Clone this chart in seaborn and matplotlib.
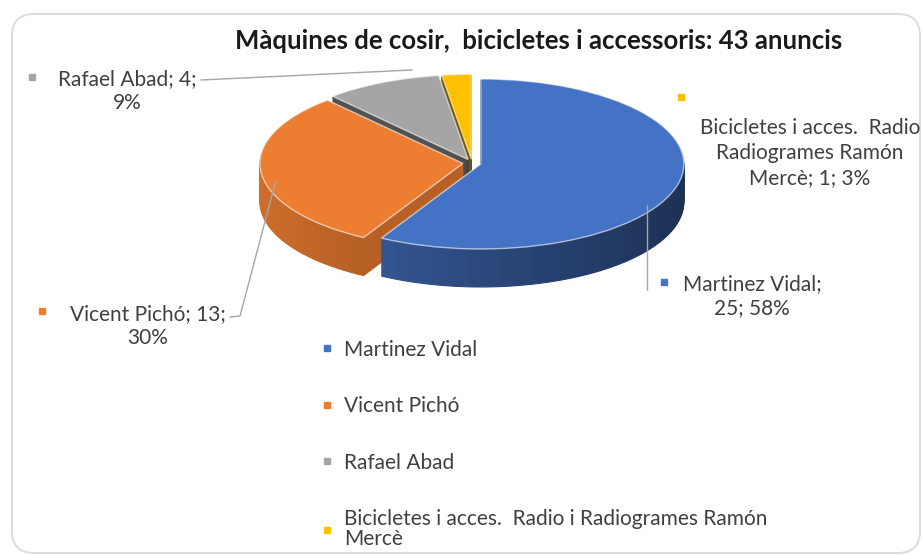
import matplotlib
matplotlib.use("Agg")
import numpy as np
import matplotlib.pyplot as plt
from matplotlib.colors import to_rgb
from matplotlib.patches import FancyBboxPatch
from matplotlib.lines import Line2D
import seaborn as sns

# data
sellers = ["Martinez Vidal", "Vicent Pichó", "Rafael Abad",
           "Bicicletes i acces.  Radio i Radiogrames Ramón Mercè"]
ads = [25, 13, 4, 1]
pcts = [58, 30, 9, 3]
title = "Màquines de cosir,  bicicletes i accessoris: 43 anuncis"

top_colors = ["#4472C4", "#ED7D31", "#A5A5A5", "#FFC000"]
side_dark = [0.64, 0.66, 0.36, 0.42]   # darkening of the slice walls

sns.set_theme(style="white")
plt.rcParams["font.family"] = ["Lato", "DejaVu Sans"]

W, H = 923, 556
fig = plt.figure(figsize=(W / 100, H / 100), dpi=100)
ax = fig.add_axes([0, 0, 1, 1])

# pie geometry in image pixels
cx, cy = 472, 163
sx, sy = 203, 85
depth = 38


def px(x, y):
    # image pixel -> data coords of the pie axes
    return (x - cx) / sx, (cy - y) / sy


def fxy(x, y):
    return x / W, 1 - y / H


def shade(col, a, ang):
    f = np.clip(a - 0.21 * np.cos(np.radians(ang)), 0, 1)
    return tuple(c * f for c in to_rgb(col))


ex = 0.045
tot = sum(ads)
cum = np.concatenate([[0], np.cumsum(ads)])
nsub = 48

# walls: each slice drawn as thin sub-wedges, stacked downwards
nlay = 32
for i in range(nlay, 0, -1):
    off = depth / sy * i / nlay
    for j, v in enumerate(ads):
        mid = 90 - 360 * (cum[j] + v / 2) / tot
        vals, cols = [], []
        for k, w in enumerate(ads):
            if k == j:
                for s in range(nsub):
                    ang = 90 - 360 * (cum[j] + (s + 0.5) * w / nsub) / tot
                    vals.append(w / nsub)
                    cols.append(shade(top_colors[j], side_dark[j], ang))
            else:
                vals.append(w)
                cols.append("none")
        wedges, _ = ax.pie(vals, colors=cols, startangle=90, counterclock=False,
                           center=(ex * np.cos(np.radians(mid)),
                                   -off + ex * np.sin(np.radians(mid))),
                           wedgeprops=dict(linewidth=0.8))
        for wd in wedges:
            wd.set_edgecolor(wd.get_facecolor())

ax.pie(ads, colors=top_colors, startangle=90, counterclock=False,
       explode=[ex] * len(ads), center=(0, 0),
       wedgeprops=dict(linewidth=1.0, edgecolor=(1, 1, 1, 0.6)))

ax.set_aspect("auto")
ax.set_xlim(px(0, 0)[0], px(W, 0)[0])
ax.set_ylim(px(0, H)[1], px(0, 0)[1])
ax.axis("off")

# rounded chart border
fig.patches.append(FancyBboxPatch((0.12, 0.03), 9.08, 5.39,
                                  boxstyle="round,pad=0,rounding_size=0.22",
                                  transform=fig.dpi_scale_trans,
                                  facecolor="none", edgecolor="#dcdcdc",
                                  linewidth=1.4))

fig.text(*fxy(539, 41), title, ha="center", va="center",
         fontsize=18.5, fontweight="bold", color="#1a1a1a")

txt = "#404040"
lab_fs = 15
line_c = "#a6a6a6"

# data labels with leader lines
labels = [
    (f"{sellers[0]};\n{ads[0]}; {pcts[0]}%", (752, 296), (664, 282),
     [(647, 205), (647, 290)]),
    (f"{sellers[1]}; {ads[1]};\n{pcts[1]}%", (148, 326), (42, 311),
     [(230, 317), (240, 316), (276, 180)]),
    (f"{sellers[2]}; {ads[2]};\n{pcts[2]}%", (127, 91), (32, 77),
     [(201, 80), (412, 70)]),
    ("Bicicletes i acces.  Radio\nRadiogrames Ramón\nMercè; "
     f"{ads[3]}; {pcts[3]}%", (810, 153), (681, 97), None),
]
for (s, (tx, ty), (mx, my), lead), col in zip(labels, top_colors):
    fig.text(*fxy(tx, ty), s, ha="center", va="center", fontsize=lab_fs,
             color=txt, linespacing=1.3)
    fig.add_artist(Line2D([mx / W], [1 - my / H], marker="s", markersize=5,
                          color=col, transform=fig.transFigure))
    if lead:
        xs, ys = zip(*[px(x, y) for x, y in lead])
        ax.plot(xs, ys, color=line_c, lw=1)

# legend
handles = [Line2D([], [], marker="s", linestyle="none", markersize=5,
                  color=c) for c in top_colors]
leg_labels = sellers[:3] + ["Bicicletes i acces.  Radio i Radiogrames Ramón\nMercè"]
leg = fig.legend(handles, leg_labels, loc="upper left",
                 bbox_to_anchor=fxy(302, 321), frameon=False, fontsize=lab_fs,
                 handlelength=0.6, handletextpad=0.5, labelspacing=1.75,
                 labelcolor=txt)
leg.get_texts()[3].set_linespacing(1.0)

fig.savefig("out.png", dpi=100, facecolor="white")
